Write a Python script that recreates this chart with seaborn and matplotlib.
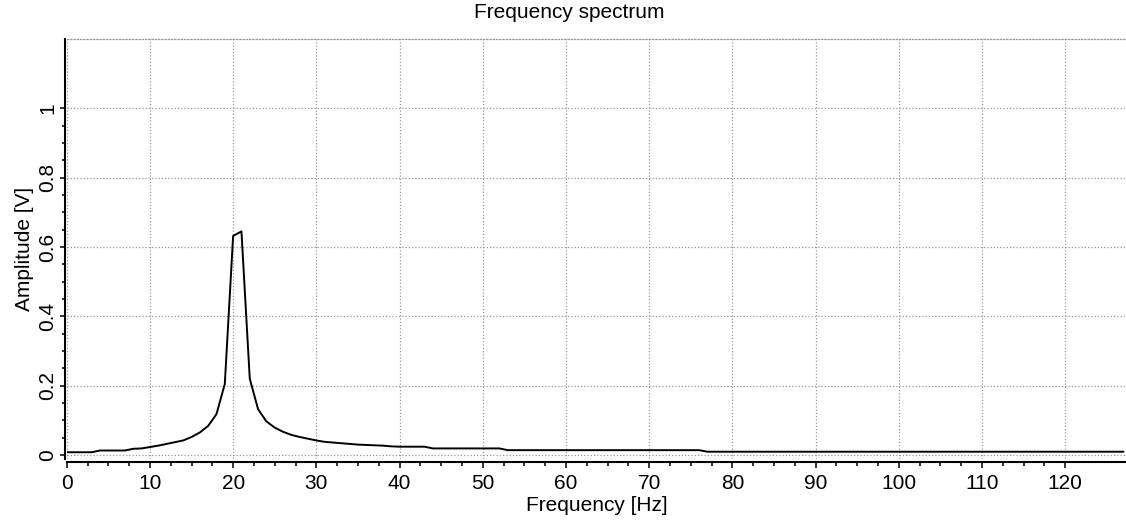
import numpy as np
import pandas as pd
import matplotlib
matplotlib.use("Agg")
import matplotlib.pyplot as plt
from matplotlib.ticker import FixedLocator, FuncFormatter
import seaborn as sns

# ---- data ----
freq_hz = list(range(0, 128))
amplitude_v = [
    0.008, 0.008, 0.008, 0.008, 0.013, 0.013, 0.013, 0.013, 0.018, 0.019,   # 0-9
    0.023, 0.027, 0.032, 0.037, 0.042, 0.052, 0.065, 0.084, 0.118, 0.205,   # 10-19
    0.632, 0.645, 0.220, 0.132, 0.097, 0.079, 0.067, 0.058, 0.052, 0.047,   # 20-29
    0.042, 0.038, 0.036, 0.034, 0.032, 0.030, 0.029, 0.028, 0.027, 0.025,   # 30-39
    0.024, 0.024, 0.024, 0.024, 0.019, 0.019, 0.019, 0.019, 0.019, 0.019,   # 40-49
    0.019, 0.019, 0.019, 0.014, 0.014, 0.014, 0.014, 0.014, 0.014, 0.014,   # 50-59
    0.014, 0.014, 0.014, 0.014, 0.014, 0.014, 0.014, 0.014, 0.014, 0.014,   # 60-69
    0.014, 0.014, 0.014, 0.014, 0.014, 0.014, 0.014, 0.0095, 0.0095, 0.0095,  # 70-79
    0.0095, 0.0095, 0.0095, 0.0095, 0.0095, 0.0095, 0.0095, 0.0095, 0.0095, 0.0095,  # 80-89
    0.0095, 0.0095, 0.0095, 0.0095, 0.0095, 0.0095, 0.0095, 0.0095, 0.0095, 0.0095,  # 90-99
    0.0095, 0.0095, 0.0095, 0.0095, 0.0095, 0.0095, 0.0095, 0.0095, 0.0095, 0.0095,  # 100-109
    0.0095, 0.0095, 0.0095, 0.0095, 0.0095, 0.0095, 0.0095, 0.0095, 0.0095, 0.0095,  # 110-119
    0.0095, 0.0095, 0.0095, 0.0095, 0.0095, 0.0095, 0.0095, 0.0095,                  # 120-127
]
x_major_ticks = [0, 10, 20, 30, 40, 50, 60, 70, 80, 90, 100, 110, 120]
y_major_ticks = [0, 0.2, 0.4, 0.6, 0.8, 1.0]

title_text = "Frequency spectrum"
x_label = "Frequency [Hz]"
y_label = "Amplitude [V]"

df = pd.DataFrame({"freq": freq_hz, "amp": amplitude_v})

sns.set_style("white")
plt.rcParams["font.family"] = ["Liberation Sans", "DejaVu Sans"]
plt.rcParams["text.color"] = "black"
plt.rcParams["axes.labelcolor"] = "black"
plt.rcParams["xtick.color"] = "black"
plt.rcParams["ytick.color"] = "black"

FS = 15
grid_kw = dict(color="#9a9a9a", linestyle=(0, (1, 1.6)), linewidth=0.9)

fig = plt.figure(figsize=(11.26, 5.2), dpi=100)
ax = fig.add_axes([66.7 / 1126, 61 / 520, (1126 - 66.7) / 1126, 420 / 520])

sns.lineplot(data=df, x="freq", y="amp", color="black", linewidth=1.4, ax=ax)

ax.set_xlim(0, 127.3)
ax.set_ylim(-0.0115, 1.2)

ax.xaxis.set_major_locator(FixedLocator(x_major_ticks))
ax.xaxis.set_minor_locator(FixedLocator([t + d for t in x_major_ticks[:-1] for d in (2.5, 5, 7.5)]))
ax.yaxis.set_major_locator(FixedLocator(y_major_ticks))
ax.yaxis.set_minor_locator(FixedLocator([round(t + d, 3) for t in y_major_ticks[:-1] for d in (0.05, 0.1, 0.15)]))
ax.yaxis.set_major_formatter(FuncFormatter(lambda v, p: "%g" % v))

ax.grid(True, which="major", **grid_kw)

# spines
for s in ("left", "bottom"):
    ax.spines[s].set_visible(True)
    ax.spines[s].set_color("black")
    ax.spines[s].set_linewidth(1.5)
ax.spines["left"].set_position(("outward", 1.4))
ax.spines["bottom"].set_position(("outward", 2.2))
ax.spines["right"].set_visible(False)
ax.spines["top"].set_visible(True)
ax.spines["top"].set_color(grid_kw["color"])
ax.spines["top"].set_linestyle(grid_kw["linestyle"])
ax.spines["top"].set_linewidth(grid_kw["linewidth"])
# dotted frame line along the lower edge of the plotting box
ax.axhline(ax.get_ylim()[0], **grid_kw, zorder=1)

ax.tick_params(axis="both", which="both", direction="out", color="black",
               labelcolor="black", bottom=True, left=True, top=False, right=False)
ax.tick_params(axis="x", which="major", length=4.5, width=1.1, pad=4, labelsize=FS)
ax.tick_params(axis="x", which="minor", length=3, width=1.1)
ax.tick_params(axis="y", which="major", length=3.5, width=1.1, pad=2, labelsize=FS)
ax.tick_params(axis="y", which="minor", length=2.5, width=1.1)
for lab in ax.get_yticklabels():
    lab.set_rotation(90)
    lab.set_va("center")

ax.set_xlabel(x_label, fontsize=FS, labelpad=2, color="black")
ax.set_ylabel(y_label, fontsize=FS, labelpad=3, color="black")
fig.text(569.5 / 1126, 1 - 12 / 520, title_text, fontsize=FS, ha="center", va="center", color="black")

fig.savefig("out.png", dpi=100)
